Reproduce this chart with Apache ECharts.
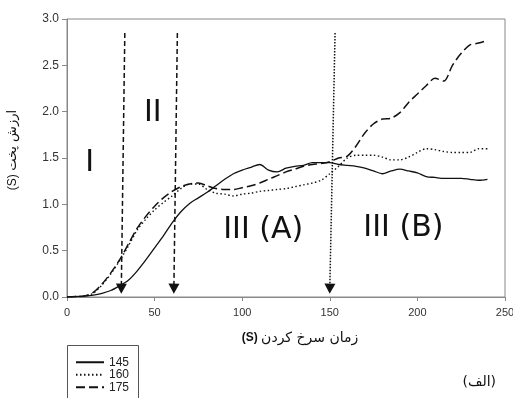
<!DOCTYPE html>
<html>
<head>
<meta charset="utf-8">
<script src="https://cdn.jsdelivr.net/npm/echarts@6/dist/echarts.min.js"></script>
<style>
  html, body { margin: 0; padding: 0; background: #fff; }
  #chart { width: 513px; height: 398px; }
</style>
</head>
<body>
<div id="chart"></div>
<script>
// frying time (s), sampled every 5 s
const times = [0, 5, 10, 15, 20, 25, 30, 35, 40, 45, 50, 55, 60, 65, 70, 75, 80, 85, 90, 95,
  100, 105, 110, 115, 120, 125, 130, 135, 140, 145, 150, 155, 160, 165, 170, 175, 180, 185, 190, 195,
  200, 205, 210, 215, 220, 225, 230, 235, 240];

const values145 = [0, 0.005, 0.01, 0.02, 0.04, 0.07, 0.12, 0.18, 0.28, 0.40, 0.53, 0.66, 0.80, 0.92, 1.01, 1.07, 1.13, 1.20, 1.27, 1.33,
  1.37, 1.40, 1.43, 1.37, 1.35, 1.39, 1.41, 1.42, 1.45, 1.45, 1.45, 1.43, 1.42, 1.41, 1.39, 1.36, 1.33, 1.36, 1.38, 1.36,
  1.34, 1.30, 1.29, 1.28, 1.28, 1.28, 1.27, 1.26, 1.27];

const values160 = [0, 0.005, 0.01, 0.04, 0.13, 0.25, 0.39, 0.55, 0.72, 0.84, 0.94, 1.02, 1.09, 1.17, 1.22, 1.22, 1.16, 1.12, 1.11, 1.09,
  1.11, 1.12, 1.14, 1.15, 1.16, 1.17, 1.19, 1.21, 1.23, 1.26, 1.33, 1.41, 1.50, 1.53, 1.53, 1.53, 1.51, 1.48, 1.48, 1.51,
  1.56, 1.60, 1.59, 1.57, 1.56, 1.56, 1.56, 1.60, 1.60];

const values175 = [0, 0.005, 0.01, 0.05, 0.14, 0.26, 0.40, 0.57, 0.74, 0.87, 0.98, 1.07, 1.14, 1.19, 1.22, 1.23, 1.20, 1.17, 1.16, 1.16,
  1.18, 1.20, 1.23, 1.27, 1.31, 1.35, 1.38, 1.41, 1.43, 1.44, 1.46, 1.50, 1.52, 1.63, 1.77, 1.87, 1.92, 1.93, 1.99, 2.10,
  2.19, 2.28, 2.36, 2.33, 2.50, 2.63, 2.72, 2.74, 2.77];

const seriesNames = ['145', '160', '175'];
const xTicks = [0, 50, 100, 150, 200, 250];

// phase boundaries: [x top, y top, x bottom, y bottom]
const boundaries = [
  [33, 2.85, 31, 0.09],
  [63, 2.85, 61, 0.09],
  [153, 2.85, 150, 0.09]
];
const boundaryTypes = [[5, 3], [5, 3], 'dotted'];

// phase labels: [text, x, y]
const phases = [
  ['I', 13, 1.44],
  ['II', 49, 1.98],
  ['III (A)', 112, 0.72],
  ['III (B)', 192, 0.74]
];

const pairs = (ys) => times.map((t, i) => [t, ys[i]]);

const chart = echarts.init(document.getElementById('chart'));

const lineFont = 'Liberation Sans, Arial, sans-serif';
const persianFont = 'DejaVu Sans, sans-serif';

const option = {
  animation: false,
  backgroundColor: '#fff',
  title: {
    text: '(الف)',
    right: 12,
    top: 370,
    textStyle: { fontFamily: persianFont, fontSize: 14, fontWeight: 'normal', color: '#111' }
  },
  // legend frame runs off the bottom edge, like the reference
  graphic: [{
    type: 'rect',
    silent: true,
    shape: { x: 67.5, y: 345.5, width: 71, height: 70 },
    style: { fill: 'none', stroke: '#555', lineWidth: 1 }
  }],
  legend: {
    data: seriesNames,
    orient: 'vertical',
    left: 75,
    top: 356,
    padding: 0,
    itemGap: 0,
    itemWidth: 28,
    itemHeight: 10,
    itemStyle: { color: 'rgba(0,0,0,0)', borderColor: 'rgba(0,0,0,0)', borderWidth: 0 },
    textStyle: { fontFamily: lineFont, fontSize: 12, lineHeight: 12.5, color: '#222' }
  },
  grid: {
    left: 67,
    right: 8,
    top: 19,
    bottom: 101,
    show: true,
    borderColor: '#888',
    borderWidth: 1,
    containLabel: false,
    outerBoundsMode: 'none'
  },
  xAxis: {
    type: 'value',
    min: 0,
    max: 250,
    interval: 50,
    name: '{s|(S)} {p|زمان سرخ کردن}',
    nameLocation: 'middle',
    nameGap: 34,
    nameTextStyle: {
      padding: [0, 0, 0, 28],
      rich: {
        s: { fontFamily: lineFont, fontSize: 12, fontWeight: 'bold', color: '#111' },
        p: { fontFamily: persianFont, fontSize: 14, color: '#111' }
      }
    },
    axisLine: { lineStyle: { color: '#888' } },
    axisTick: { length: 4, lineStyle: { color: '#888' } },
    axisLabel: {
      margin: 10,
      fontFamily: lineFont,
      fontSize: 11,
      color: '#333',
      formatter: (v) => (xTicks.includes(v) ? String(v) : '')
    },
    splitLine: { show: false }
  },
  yAxis: {
    type: 'value',
    min: 0,
    max: 3,
    interval: 0.5,
    name: '{s|(S)} {p|ارزش پخت}',
    nameLocation: 'middle',
    nameRotate: 90,
    nameGap: 48,
    nameTextStyle: {
      padding: [0, 0, 0, 16],
      rich: {
        s: { fontFamily: lineFont, fontSize: 12, color: '#111' },
        p: { fontFamily: persianFont, fontSize: 13, color: '#111' }
      }
    },
    axisLine: { show: true, lineStyle: { color: '#888' } },
    axisTick: { show: true, length: 5, lineStyle: { color: '#888' } },
    axisLabel: {
      margin: 8,
      fontFamily: lineFont,
      fontSize: 12,
      color: '#333',
      formatter: (v) => v.toFixed(1)
    },
    splitLine: { show: false }
  },
  series: [
    {
      name: '145',
      type: 'line',
      data: pairs(values145),
      symbol: 'none',
      smooth: 0.3,
      lineStyle: { color: '#111', width: 1.3, type: 'solid' },
      itemStyle: { color: '#111' }
    },
    {
      name: '160',
      type: 'line',
      data: pairs(values160),
      symbol: 'none',
      smooth: 0.3,
      lineStyle: { color: '#111', width: 1.4, type: [1.5, 2.5] },
      itemStyle: { color: '#111' }
    },
    {
      name: '175',
      type: 'line',
      data: pairs(values175),
      symbol: 'none',
      smooth: 0.3,
      lineStyle: { color: '#111', width: 1.5, type: [9, 4] },
      itemStyle: { color: '#111' }
    },
    {
      name: 'annotations',
      type: 'line',
      data: [],
      silent: true,
      markLine: {
        silent: true,
        symbol: ['none', 'triangle'],
        symbolSize: [11, 10],
        label: { show: false },
        emphasis: { disabled: true },
        data: boundaries.map((b, i) => [
          { coord: [b[0], b[1]], lineStyle: { color: '#111', width: 1.5, type: boundaryTypes[i] }, itemStyle: { color: '#111' } },
          { coord: [b[2], b[3]], lineStyle: { color: '#111', width: 1.5, type: boundaryTypes[i] }, itemStyle: { color: '#111' } }
        ])
      },
      markPoint: {
        silent: true,
        symbol: 'circle',
        symbolSize: 1,
        itemStyle: { color: 'rgba(0,0,0,0)' },
        label: {
          show: true,
          position: 'inside',
          fontFamily: 'DejaVu Sans, sans-serif',
          fontSize: 30,
          color: '#111',
          formatter: (p) => p.name
        },
        data: phases.map((p) => ({ name: p[0], coord: [p[1], p[2]] }))
      }
    }
  ]
};

chart.setOption(option);
</script>
</body>
</html>
